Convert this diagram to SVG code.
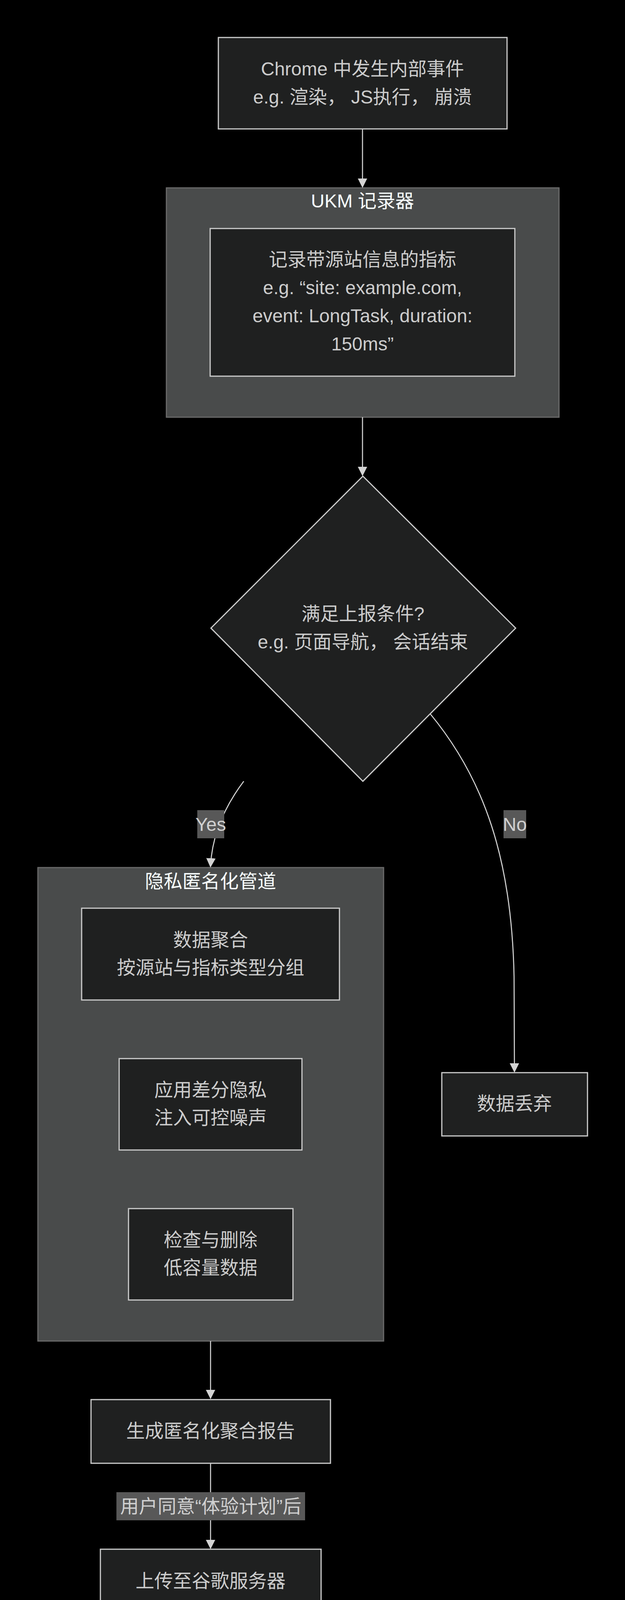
<svg xmlns="http://www.w3.org/2000/svg" width="1600" height="4609" viewBox="0 0 1600 4609">
<style>
  .bg { fill: #000000; }
  .node rect, .node polygon { fill: #1f2020; stroke: #cccccc; stroke-width: 3; }
  .cluster rect { fill: #494b4b; stroke: #6a6a6a; stroke-width: 3; }
  .t { font-family: "Liberation Sans", "Noto Sans CJK SC", sans-serif; font-size: 48px; fill: #cccccc; text-anchor: middle; }
  .ct { font-family: "Liberation Sans", "Noto Sans CJK SC", sans-serif; font-size: 48px; fill: #f9fffe; text-anchor: middle; }
  .edge { fill: none; stroke: #d3d3d3; stroke-width: 2.7; }
  .lbl rect { fill: #585858; }
  .lt { font-family: "Liberation Sans", "Noto Sans CJK SC", sans-serif; font-size: 48px; fill: #d0d0d0; text-anchor: middle; }
  .wm { font-family: "Liberation Sans", sans-serif; font-size: 29px; fill: #a0a0a0; }
</style>
<defs>
  <marker id="arrow" viewBox="0 0 24 24" markerUnits="userSpaceOnUse" markerWidth="24" markerHeight="24" refX="19" refY="12" orient="auto">
    <path d="M0,0 L24,12 L0,24 z" fill="#d3d3d3"/>
  </marker>
</defs>
<rect class="bg" x="0" y="0" width="1600" height="4609"/>

<g id="cluster-ukm" class="cluster">
  <rect x="426" y="481" width="1005" height="587"/>
  <text class="ct" x="928" y="531">UKM 记录器</text>
</g>
<g id="cluster-pipeline" class="cluster">
  <rect x="97" y="2221" width="885" height="1212"/>
  <text class="ct" x="539" y="2273">隐私匿名化管道</text>
</g>

<g id="connectors">
  <path class="edge" d="M928,330 L928,476" marker-end="url(#arrow)"/>
  <path class="edge" d="M928,1068 L928,1214" marker-end="url(#arrow)"/>
  <path class="edge" d="M624,2000 Q545,2105 539,2216" marker-end="url(#arrow)"/>
  <path class="edge" d="M1101,1827 C1240,1995 1310,2200 1316,2500 L1317,2741" marker-end="url(#arrow)"/>
  <path class="edge" d="M539,3433 L539,3577" marker-end="url(#arrow)"/>
  <path class="edge" d="M539,3746 L539,3961" marker-end="url(#arrow)"/>
  <path class="edge" d="M539,4130 L539,4274" marker-end="url(#arrow)"/>
</g>

<g id="label-yes" class="lbl">
  <rect x="505" y="2074" width="69" height="72"/>
  <text class="lt" x="539.5" y="2127">Yes</text>
</g>
<g id="label-no" class="lbl">
  <rect x="1289" y="2074" width="58" height="72"/>
  <text class="lt" x="1318" y="2127">No</text>
</g>
<g id="label-consent" class="lbl">
  <rect x="298" y="3820" width="483" height="72"/>
  <text class="lt" x="539.5" y="3873">用户同意“体验计划”后</text>
</g>

<g id="node-event" class="node">
  <rect x="559" y="96" width="739" height="234"/>
  <text class="t" x="928" y="193">Chrome 中发生内部事件</text>
  <text class="t" x="928" y="265">e.g. 渲染， JS执行， 崩溃</text>
</g>
<g id="node-record" class="node">
  <rect x="538" y="585" width="780" height="378"/>
  <text class="t" x="928" y="681">记录带源站信息的指标</text>
  <text class="t" x="928" y="753">e.g. “site: example.com,</text>
  <text class="t" x="928" y="825">event: LongTask, duration:</text>
  <text class="t" x="928" y="897">150ms”</text>
</g>
<g id="node-condition" class="node">
  <polygon points="929,1219 1320,1608 929,2000 540,1608"/>
  <text class="t" x="929" y="1588">满足上报条件?</text>
  <text class="t" x="929" y="1660">e.g. 页面导航， 会话结束</text>
</g>
<g id="node-aggregate" class="node">
  <rect x="209" y="2325" width="660" height="235"/>
  <text class="t" x="539" y="2423">数据聚合</text>
  <text class="t" x="539" y="2494">按源站与指标类型分组</text>
</g>
<g id="node-dp" class="node">
  <rect x="305" y="2710" width="468" height="234"/>
  <text class="t" x="539" y="2807">应用差分隐私</text>
  <text class="t" x="539" y="2878">注入可控噪声</text>
</g>
<g id="node-threshold" class="node">
  <rect x="329" y="3094" width="421" height="234"/>
  <text class="t" x="539" y="3191">检查与删除</text>
  <text class="t" x="539" y="3262">低容量数据</text>
</g>
<g id="node-discard" class="node">
  <rect x="1131" y="2746" width="373" height="162"/>
  <text class="t" x="1317" y="2842">数据丢弃</text>
</g>
<g id="node-report" class="node">
  <rect x="233" y="3583" width="613" height="163"/>
  <text class="t" x="539" y="3680">生成匿名化聚合报告</text>
</g>
<g id="node-upload" class="node">
  <rect x="257" y="3966" width="565" height="164"/>
  <text class="t" x="539" y="4064">上传至谷歌服务器</text>
</g>
<g id="node-analyze" class="node">
  <rect x="149" y="4279" width="781" height="235"/>
  <text class="t" x="539" y="4376">Chrome团队分析数据驱动浏</text>
  <text class="t" x="539" y="4448">览器优化</text>
</g>

<text class="wm" x="1289" y="4591">CSDN @</text>
</svg>
